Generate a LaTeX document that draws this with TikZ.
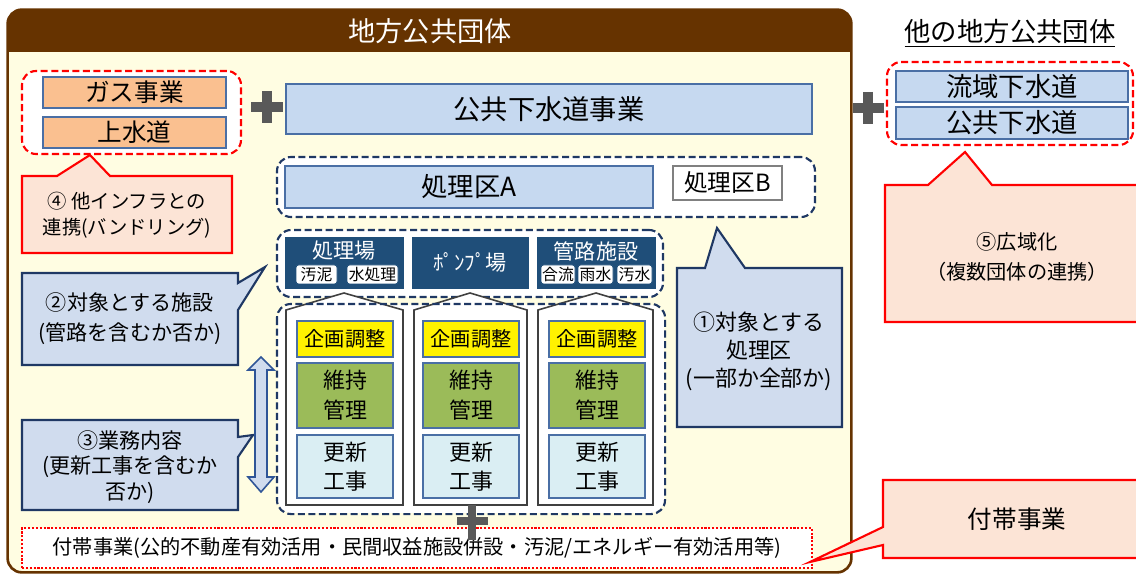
\documentclass[tikz,border=0pt]{standalone}
\usepackage{fontspec}
\setmainfont{Noto Sans CJK JP}

\definecolor{hdrbrown}{HTML}{663300}
\definecolor{basefill}{HTML}{FFFDE2}
\definecolor{orgfill}{HTML}{FAC090}
\definecolor{lbluefill}{HTML}{C6D9F0}
\definecolor{boxedge}{HTML}{4A6FA5}
\definecolor{navy}{HTML}{1F3864}
\definecolor{darkfill}{HTML}{1F4E79}
\definecolor{callblue}{HTML}{D0DCEE}
\definecolor{callpink}{HTML}{FCE4D6}
\definecolor{plusgray}{HTML}{595959}
\definecolor{greenfill}{HTML}{9BBB59}
\definecolor{paleblue}{HTML}{DAEEF3}
\definecolor{arrowedge}{HTML}{2F5597}

\newcommand{\fsz}[2]{\fontsize{#1}{#2}\selectfont}

\tikzset{
  spans/.style args={#1/#2/#3/#4}{at={({(#1+#3)/2},{(#2+#4)/2})}, minimum width={(#3-#1)*0.02cm}, minimum height={(#4-#2)*0.02cm}, inner sep=0pt},
  plainbox/.style={draw=boxedge, line width=0.8pt},
  gasbox/.style={plainbox, fill=orgfill, font=\fsz{14}{16}},
  sewerbox/.style={plainbox, fill=lbluefill},
  darkbox/.style={draw=darkfill, fill=darkfill},
  tagbox/.style={draw=darkfill, fill=white, rounded corners=1.5pt, font=\fsz{9}{10}},
  redgroup/.style={draw=red, line width=1.2pt, dash pattern=on 4pt off 2pt, rounded corners=8pt, fill=white},
  navygroup/.style={draw=navy, line width=1.2pt, dash pattern=on 4pt off 2pt, rounded corners=8pt, fill=white},
  house/.style={draw=black!75, line width=0.9pt, fill=white},
  planbox/.style={plainbox, fill=yellow, font=\fsz{11.5}{14}},
  keepbox/.style={plainbox, fill=greenfill, align=center, font=\fsz{12.5}{17}},
  renewbox/.style={plainbox, fill=paleblue, align=center, font=\fsz{12.5}{16.5}},
  bluecall/.style={draw=navy, line width=1.2pt, fill=callblue},
  redcall/.style={draw=red, line width=1.2pt, fill=callpink},
  bigplus/.style={draw=plusgray, line width=6pt},
  smallplus/.style={draw=plusgray, line width=4.5pt},
}

\begin{document}
\begin{tikzpicture}[x=0.02cm, y=-0.02cm]
\useasboundingbox (0,0) rectangle (1136,574);
\clip (0,0) rectangle (1136,574);
\fill[white] (0,0) rectangle (1136,574);

\node[fill=basefill, rounded corners=8pt, spans=8/10/851/572] (body) {};
\begin{scope}
\clip (0,0) rectangle (1136,52);
\fill[hdrbrown, rounded corners=8pt] (body.north west) rectangle (body.south east);
\end{scope}
\draw[hdrbrown, line width=1.5pt, rounded corners=8pt] (body.north west) rectangle (body.south east);
\node[text=white, font=\fsz{15.5}{18}] (hdr) at (430,31) {地方公共団体};

\node[redgroup, spans=22/71/241/154] (infra) {};
\node[gasbox, spans=43/77/226/108] (gas) {ガス事業};
\node[gasbox, spans=43/117/226/148] (water) {上水道};
\draw[bigplus] (251,107) -- (283,107) (267,91) -- (267,123);
\node[sewerbox, spans=286/84/812/134, font=\fsz{15.5}{18}] (sewer) {公共下水道事業};

\node[navygroup, spans=277/157/815/217] (areas) {};
\node[sewerbox, spans=285/166/653/208, font=\fsz{15}{18}] (areaA) {処理区A};
\node[draw=gray, line width=0.8pt, fill=white, spans=673/166/782/200, font=\fsz{13.5}{16}] (areaB) {処理区B};

\node[navygroup, spans=277/230/663/297] (facil) {};
\node[darkbox, spans=285/237/403/288] (plant) {};
\node[text=white, font=\fsz{12}{14}] (plantlbl) at (344,251) {処理場};
\node[tagbox, spans=296/265/337/284] (sludge) {汚泥};
\node[tagbox, spans=347/265/398/284] (wtreat) {水処理};
\node[darkbox, spans=412/237/528/288, text=white, font=\fsz{12}{14}] (pump) {ﾎﾟﾝﾌﾟ場};
\node[darkbox, spans=537/237/655/288] (pipes) {};
\node[text=white, font=\fsz{12}{14}] (pipeslbl) at (596,251) {管路施設};
\node[tagbox, spans=541/265/575/284] (comb) {合流};
\node[tagbox, spans=578/265/613/284] (storm) {雨水};
\node[tagbox, spans=617/265/652/284] (foul) {汚水};

\node[navygroup, draw=none, spans=278/305/664/513] (work) {};
\draw[house] (286,505) -- (286,310) -- (344,293) -- (403,310) -- (403,505) -- cycle;
\draw[house] (414,505) -- (414,310) -- (470,293) -- (527,310) -- (527,505) -- cycle;
\draw[house] (538,505) -- (538,310) -- (596,293) -- (653,310) -- (653,505) -- cycle;
\node[planbox, spans=297/321/393/357] (plan1) {企画調整};
\node[keepbox, spans=297/363/393/428] (keep1) {維持\\管理};
\node[renewbox, spans=297/435/393/498] (renew1) {更新\\工事};
\node[planbox, spans=423/321/519/357] (plan2) {企画調整};
\node[keepbox, spans=423/363/519/428] (keep2) {維持\\管理};
\node[renewbox, spans=423/435/519/498] (renew2) {更新\\工事};
\node[planbox, spans=549/321/645/357] (plan3) {企画調整};
\node[keepbox, spans=549/363/645/428] (keep3) {維持\\管理};
\node[renewbox, spans=549/435/645/498] (renew3) {更新\\工事};
\draw[navygroup, fill=none] (work.north west) rectangle (work.south east);

\draw[redcall] (22,176) -- (57,176) -- (90,155) -- (110,176) -- (232,176) -- (232,253) -- (22,253) -- cycle;
\node[align=center, font=\fsz{11}{15}] (bundle) at (127,215) {④ 他インフラとの\\連携(バンドリング)};
\draw[bluecall] (22,273) -- (238,273) -- (238,283) -- (265,267) -- (238,310) -- (238,365) -- (22,365) -- cycle;
\node[align=center, font=\fsz{12}{17}] (facilcall) at (130,319) {②対象とする施設\\(管路を含むか否か)};
\draw[bluecall] (22,420) -- (238,420) -- (238,437) -- (253,435) -- (238,457) -- (238,510) -- (22,510) -- cycle;
\node[align=center, font=\fsz{12}{14.5}] (workcall) at (130,467) {③業務内容\\(更新工事を含むか\\否か)};
\draw[draw=arrowedge, line width=0.9pt, fill=callblue] (261,357) -- (274,370) -- (267,370) -- (267,477) -- (274,477) -- (261,492) -- (248,477) -- (255,477) -- (255,370) -- (248,370) -- cycle;
\draw[bluecall] (677,268) -- (705,268) -- (717,228) -- (745,268) -- (842,268) -- (842,427) -- (677,427) -- cycle;
\node[align=center, font=\fsz{12.5}{16}] (areacall) at (759,351) {①対象とする\\処理区\\(一部か全部か)};

\draw[bigplus] (853,108) -- (884,108) (868,92) -- (868,124);
\node[font=\fsz{15}{18}] (otherhdr) at (1010,33) {\underline{他の地方公共団体}};
\node[redgroup, spans=887/62/1133/145] (others) {};
\node[sewerbox, spans=896/71/1128/102, font=\fsz{15}{18}] (basin) {流域下水道};
\node[sewerbox, spans=896/107/1128/139, font=\fsz{15}{18}] (othersewer) {公共下水道};
\draw[redcall] (885,185) -- (928,185) -- (965,152) -- (992,185) -- (1150,185) -- (1150,322) -- (885,322) -- cycle;
\node[align=center, font=\fsz{11.5}{17}] (wide) at (1017,257) {⑤広域化\\（複数団体の連携）};

\node[draw=red, line width=0.6pt, dash pattern=on 1.2pt off 1pt, fill=white, spans=22/528/812/568, font=\fsz{11.5}{14}] (extra) {付帯事業(公的不動産有効活用・民間収益施設併設・汚泥/エネルギー有効活用等)};
\draw[smallplus] (457,521) -- (488,521) (472,505) -- (472,540);
\draw[redcall] (883,480) -- (1150,480) -- (1150,558) -- (883,558) -- (883,545) -- (810,562) -- (883,527) -- cycle;
\node[font=\fsz{14}{16}] (extracall) at (1017,519) {付帯事業};
\end{tikzpicture}
\end{document}
